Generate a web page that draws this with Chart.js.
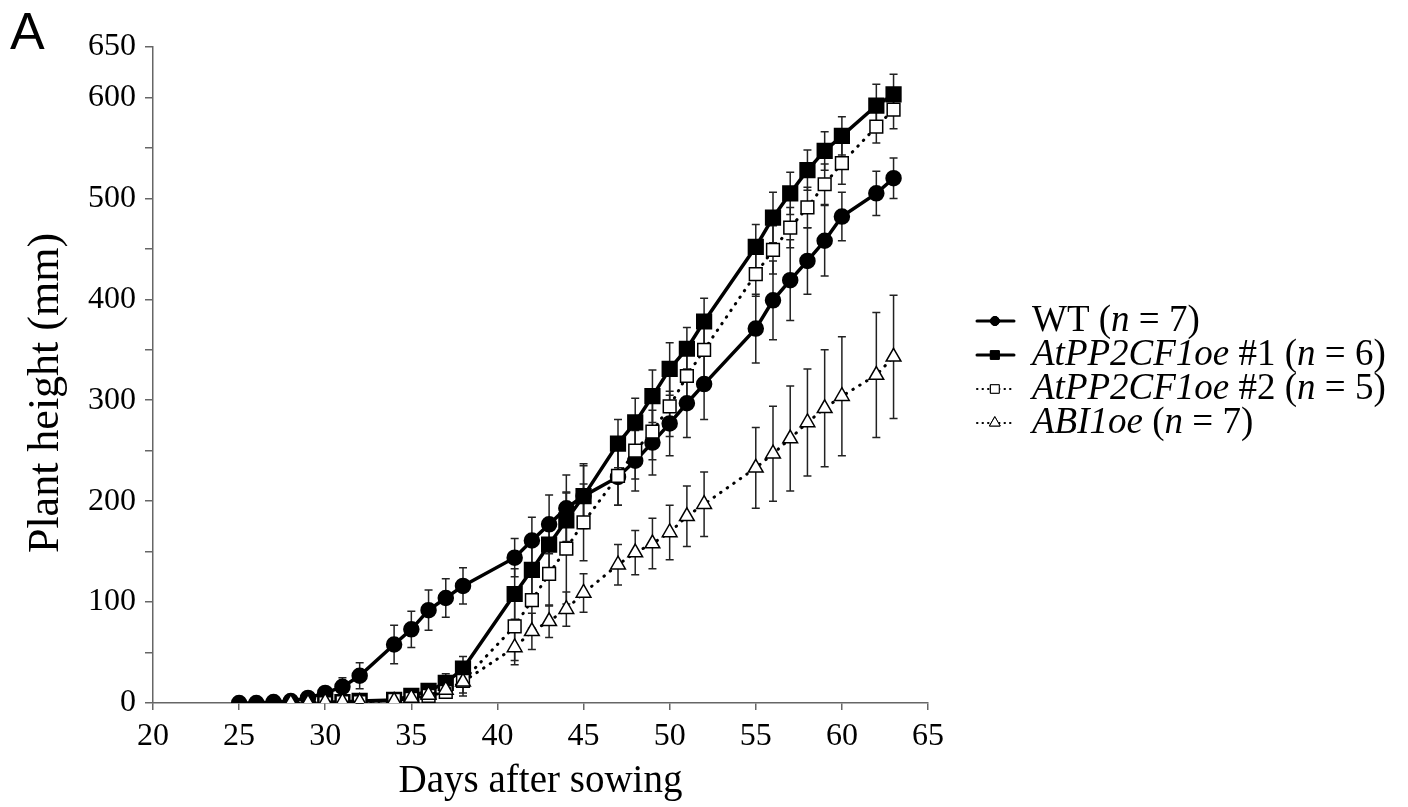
<!DOCTYPE html>
<html>
<head>
<meta charset="utf-8">
<script src="https://cdn.jsdelivr.net/npm/chart.js@4.4.1/dist/chart.umd.min.js"></script>
<style>
html, body { margin: 0; padding: 0; background: #fff; }
#wrap { width: 1408px; height: 807px; position: relative; }
</style>
</head>
<body>
<div id="wrap"><canvas id="growth_chart"></canvas></div>
<script>
// WT
var wtDays = [25,26,27,28,29,30,31,32,34,35,36,37,38,41,42,43,44,45,47,48,49,50,51,52,55,56,57,58,59,60,62,63]
var wtHeight = [0,0,1,2,5,10,16,27,58,73,92,104,116,144,161,177,193,205,224,240,258,277,297,316,371,399,419,438,458,482,505,520]
var wtErr = [0,0,0,1,1,3,9,13,19,18,20,19,18,19,23,29,33,32,28,30,32,32,34,35,34,39,40,33,35,24,22,20]

// AtPP2CF1oe #1
var oe1Days = [30,31,32,34,35,36,37,38,41,42,43,44,45,47,48,49,50,51,52,55,56,57,58,59,60,62,63]
var oe1Height = [1,1,2,3,7,12,20,34,108,132,157,181,205,257,278,304,331,351,378,452,481,505,528,547,562,592,603]
var oe1Err = [0,0,1,2,3,4,9,12,25,24,26,28,30,24,24,26,26,21,23,22,25,21,20,19,19,21,20]

// AtPP2CF1oe #2
var oe2Days = [30,31,32,34,35,36,37,38,41,42,43,44,45,47,48,49,50,51,52,55,56,57,58,59,60,62,63]
var oe2Height = [0,1,1,3,4,7,11,22,76,102,128,153,179,225,250,269,294,324,350,425,449,471,491,514,535,571,588]
var oe2Err = [0,0,1,1,2,4,6,12,34,28,32,55,38,29,28,28,30,28,30,22,24,20,20,20,21,16,19]

// ABI1oe
var abiDays = [28,29,30,31,32,34,35,36,37,38,41,42,43,44,45,47,48,49,50,51,52,55,56,57,58,59,60,62,63]
var abiHeight = [0,0,1,1,1,2,5,8,13,21,55,71,81,93,109,137,149,158,169,185,197,233,247,262,278,292,304,325,343]
var abiErr = [0,0,0,0,1,1,2,3,6,14,17,18,16,17,19,20,22,25,27,30,32,40,47,52,53,58,59,62,61]

var yLabelTicks = [0,100,200,300,400,500,600,650]
var yTitle = 'Plant height (mm)'
var xTitle = 'Days after sowing'

// legend texts, [text, italic]
var legendWT = [['WT (',0],['n',1],[' = 7)',0]]
var legendOe1 = [['AtPP2CF1oe',1],[' #1 (',0],['n',1],[' = 6)',0]]
var legendOe2 = [['AtPP2CF1oe',1],[' #2 (',0],['n',1],[' = 5)',0]]
var legendAbi = [['ABI1oe',1],[' (',0],['n',1],[' = 7)',0]]

const serif = '"Liberation Serif", "Times New Roman", serif'

function pts(days, vals) {
    return days.map((d, i) => ({x: d, y: vals[i]}))
}

const errorBars = {
    id: 'errorBars',
    beforeDatasetsDraw(chart) {
        const ctx = chart.ctx
        const xs = chart.scales.x, ys = chart.scales.y
        ctx.save()
        ctx.strokeStyle = '#222'
        ctx.lineWidth = 1.5
        chart.data.datasets.forEach(ds => {
            ds.data.forEach((p, i) => {
                const e = ds.errors[i]
                if (!e) return
                const x = xs.getPixelForValue(p.x)
                const y1 = ys.getPixelForValue(p.y + e)
                const y2 = ys.getPixelForValue(Math.max(0, p.y - e))
                ctx.beginPath()
                ctx.moveTo(x, y1); ctx.lineTo(x, y2)
                ctx.moveTo(x - 4, y1); ctx.lineTo(x + 4, y1)
                ctx.moveTo(x - 4, y2); ctx.lineTo(x + 4, y2)
                ctx.stroke()
            })
        })
        ctx.restore()
    }
}

// hand drawn legend (mixed italic text), y title and panel letter
const sideLegend = {
    id: 'sideLegend',
    afterDraw(chart) {
        const ctx = chart.ctx
        ctx.save()
        ctx.fillStyle = '#000'
        ctx.font = '52px "Liberation Sans", Arial, sans-serif'
        ctx.textBaseline = 'alphabetic'
        ctx.fillText('A', 10, 49)

        ctx.save()
        ctx.translate(58, 393)
        ctx.rotate(-Math.PI / 2)
        ctx.textAlign = 'center'
        ctx.font = '44px ' + serif
        ctx.fillText(yTitle, 0, 0)
        ctx.restore()

        const rows = [
            {parts: legendWT, dash: [], style: 'circle', fill: '#000'},
            {parts: legendOe1, dash: [], style: 'rect', fill: '#000'},
            {parts: legendOe2, dash: [0.5, 5], style: 'rect', fill: '#fff'},
            {parts: legendAbi, dash: [0.5, 5], style: 'triangle', fill: '#fff'}
        ]
        rows.forEach((r, i) => {
            const y = 321 + i * 34
            ctx.strokeStyle = '#000'
            ctx.lineCap = 'round'
            ctx.lineWidth = r.dash.length ? 2 : 3
            ctx.setLineDash(r.dash)
            ctx.beginPath()
            ctx.moveTo(977, y); ctx.lineTo(1014, y)
            ctx.stroke()
            ctx.setLineDash([])
            ctx.fillStyle = r.fill
            ctx.lineWidth = 1
            Chart.helpers.drawPoint(ctx, {pointStyle: r.style, radius: r.style === 'circle' ? 4.5 : 6, borderWidth: 1}, 995, y)
            ctx.fill()
            ctx.stroke()

            let x = 1032
            ctx.fillStyle = '#000'
            ctx.textBaseline = 'middle'
            r.parts.forEach(p => {
                ctx.font = (p[1] ? 'italic ' : '') + '37px ' + serif
                ctx.fillText(p[0], x, y)
                x += ctx.measureText(p[0]).width
            })
        })
        ctx.restore()
    }
}

const chart = document.getElementById('growth_chart')

new Chart(chart, {
    type: 'line',
    data: {
        datasets: [{
            label: 'WT (n = 7)',
            data: pts(wtDays, wtHeight),
            errors: wtErr,
            borderColor: '#000',
            borderWidth: 3.5,
            pointStyle: 'circle',
            pointRadius: 6.5,
            pointBackgroundColor: '#000',
            pointBorderColor: '#000',
            order: 4
        }, {
            label: 'AtPP2CF1oe #1 (n = 6)',
            data: pts(oe1Days, oe1Height),
            errors: oe1Err,
            borderColor: '#000',
            borderWidth: 3.5,
            pointStyle: 'rect',
            pointRadius: 9,
            pointBackgroundColor: '#000',
            pointBorderColor: '#000',
            order: 3
        }, {
            label: 'AtPP2CF1oe #2 (n = 5)',
            data: pts(oe2Days, oe2Height),
            errors: oe2Err,
            borderColor: '#000',
            borderWidth: 3,
            borderDash: [0.5, 7.5],
            borderCapStyle: 'round',
            pointStyle: 'rect',
            pointRadius: 9,
            pointBorderWidth: 1.5,
            pointBackgroundColor: '#fff',
            pointBorderColor: '#000',
            order: 2
        }, {
            label: 'ABI1oe (n = 7)',
            data: pts(abiDays, abiHeight),
            errors: abiErr,
            borderColor: '#000',
            borderWidth: 3,
            borderDash: [0.5, 7.5],
            borderCapStyle: 'round',
            pointStyle: 'triangle',
            pointRadius: 8.5,
            pointBorderWidth: 1.5,
            pointBackgroundColor: '#fff',
            pointBorderColor: '#000',
            order: 1
        }]
    },
    options: {
        responsive: true,
        maintainAspectRatio: false,
        animation: false,
        layout: {padding: {left: 0, top: 47, right: 480, bottom: 0}},
        plugins: {legend: {display: false}, tooltip: {enabled: false}},
        scales: {
            x: {
                type: 'linear',
                min: 20,
                max: 65,
                afterFit: s => { s.height = 104 },
                ticks: {stepSize: 5, color: '#000', padding: 7, font: {family: serif, size: 32}},
                grid: {drawOnChartArea: false, tickLength: 7, color: '#666', lineWidth: 1.5},
                border: {color: '#666', width: 1.5},
                title: {display: true, text: xTitle, color: '#000', font: {family: serif, size: 39}, padding: {top: 0, bottom: 2}}
            },
            y: {
                min: 0,
                max: 650,
                afterFit: s => { s.width = 153 },
                ticks: {
                    stepSize: 50,
                    autoSkip: false,
                    color: '#000',
                    padding: 9,
                    font: {family: serif, size: 32},
                    callback: v => yLabelTicks.includes(v) ? v : ''
                },
                grid: {drawOnChartArea: false, tickLength: 8, color: '#666', lineWidth: 1.5},
                border: {color: '#666', width: 1.5}
            }
        }
    },
    plugins: [errorBars, sideLegend]
});
</script>
</body>
</html>
